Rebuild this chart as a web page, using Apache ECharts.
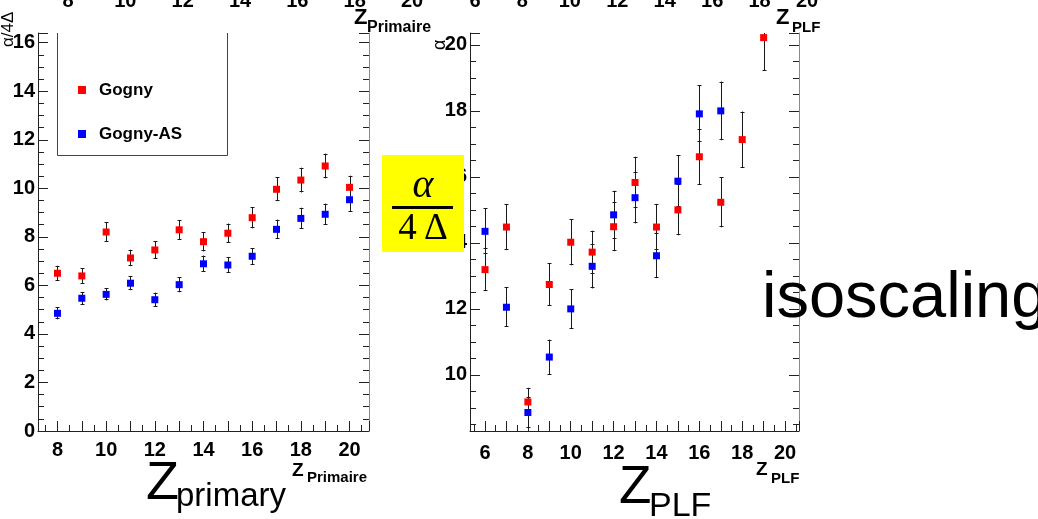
<!DOCTYPE html>
<html>
<head>
<meta charset="utf-8">
<script src="https://cdn.jsdelivr.net/npm/echarts@6/dist/echarts.min.js"></script>
<style>
html,body{margin:0;padding:0;background:#fff;overflow:hidden}
#c{width:1038px;height:519px}
</style>
</head>
<body>
<div id="c"></div>
<script>
// ---------------- data ----------------
const zPrimary = [8, 9, 10, 11, 12, 13, 14, 15, 16, 17, 18, 19, 20];
const gognyPrimary      = [6.50, 6.39, 8.20, 7.13, 7.46, 8.29, 7.80, 8.15, 8.79, 9.96, 10.34, 10.92, 10.04];
const gognyPrimaryErr   = [0.31, 0.32, 0.41, 0.34, 0.37, 0.40, 0.40, 0.40, 0.44, 0.49, 0.51, 0.51, 0.48];
const gognyASPrimary    = [4.85, 5.47, 5.63, 6.09, 5.41, 6.03, 6.89, 6.84, 7.20, 8.31, 8.76, 8.93, 9.53];
const gognyASPrimaryErr = [0.25, 0.26, 0.25, 0.29, 0.29, 0.31, 0.34, 0.33, 0.34, 0.40, 0.44, 0.44, 0.50];

const zPLFGogny   = [6, 7, 8, 9, 10, 11, 12, 13, 14, 15, 16, 17, 18, 19];
const gognyPLF    = [13.19, 14.48, 9.18, 12.74, 14.02, 13.72, 14.49, 15.83, 14.48, 15.00, 16.61, 15.23, 17.13, 20.22];
const gognyPLFErr = [0.65, 0.70, 0.43, 0.64, 0.70, 0.65, 0.74, 0.78, 0.70, 0.77, 0.85, 0.76, 0.85, 1.00];
const zPLFGognyAS   = [6, 7, 8, 9, 10, 11, 12, 13, 14, 15, 16, 17];
const gognyASPLF    = [14.35, 12.05, 8.86, 10.54, 12.00, 13.29, 14.85, 15.37, 13.61, 15.87, 17.91, 18.00];
const gognyASPLFErr = [0.70, 0.60, 0.46, 0.53, 0.60, 0.67, 0.73, 0.78, 0.68, 0.79, 0.86, 0.89];

const seriesNames = ['Gogny', 'Gogny-AS'];
const xTickLabelsPrimary = [8, 10, 12, 14, 16, 18, 20];
const yTickLabelsPrimary = [0, 2, 4, 6, 8, 10, 12, 14, 16];
const xTickLabelsPLF = [6, 8, 10, 12, 14, 16, 18, 20];
const yTickLabelsPLF = [10, 12, 14, 16, 18, 20];
const topTickLabelsLeft = [8, 10, 12, 14, 16, 18, 20];
const topTickLabelsRight = [6, 8, 10, 12, 14, 16, 18, 20];

// ---------------- helpers ----------------
const FONT = '"Liberation Sans", Arial, Helvetica, sans-serif';
const SERIF = '"Liberation Serif", "Times New Roman", serif';
const AX = '#222';
const FR = '#8a8a8a';
const RED = '#ff0000', BLUE = '#0000ff';

function labelFmt(list) {
  return function (v) {
    const r = Math.round(v);
    return (Math.abs(v - r) < 1e-6 && list.indexOf(r) >= 0) ? String(r) : '';
  };
}
function zip3(xs, ys, es) { return xs.map((x, i) => [x, ys[i], es[i]]); }
function zip2(xs, ys) { return xs.map((x, i) => [x, ys[i]]); }

const labelStyle = { color: '#000', fontFamily: FONT, fontWeight: 'bold', fontSize: 20 };

function mainX(grid, min, max, split, labels, margin) {
  return {
    type: 'value', gridIndex: grid, position: 'bottom', min: min, max: max, splitNumber: split,
    axisLine: { show: true, onZero: false, lineStyle: { color: AX, width: 1 } },
    axisTick: { show: true, inside: true, length: 10, lineStyle: { color: AX } },
    axisLabel: Object.assign({ show: true, margin: margin, formatter: labelFmt(labels), hideOverlap: false }, labelStyle),
    splitLine: { show: false }
  };
}
function minorX(grid, min, max, split) {
  return {
    type: 'value', gridIndex: grid, position: 'bottom', min: min, max: max, splitNumber: split,
    axisLine: { show: false, onZero: false },
    axisTick: { show: true, inside: true, length: 6, lineStyle: { color: AX } },
    axisLabel: { show: false }, splitLine: { show: false }
  };
}
function yAx(grid, pos, min, max, opt, tickLen, lineColor, labels) {
  return Object.assign({
    type: 'value', gridIndex: grid, position: pos, min: min, max: max,
    axisLine: { show: lineColor != null, onZero: false, lineStyle: { color: lineColor || AX, width: 1 } },
    axisTick: { show: true, inside: true, length: tickLen, lineStyle: { color: AX } },
    axisLabel: labels ? Object.assign({ show: true, margin: 3, formatter: labelFmt(labels), hideOverlap: false }, labelStyle) : { show: false },
    splitLine: { show: false }
  }, opt);
}
function topLabelsX(grid, min, max, labels) {
  return {
    type: 'value', gridIndex: grid, position: 'bottom', min: min, max: max, interval: 2,
    axisLine: { show: false, onZero: false }, axisTick: { show: false },
    axisLabel: Object.assign({ show: true, margin: 11, formatter: labelFmt(labels), hideOverlap: false }, labelStyle),
    splitLine: { show: false }
  };
}
function hiddenY(grid) {
  return { type: 'value', gridIndex: grid, show: false, min: 0, max: 1 };
}

function errRender(params, api) {
  const x = api.value(0), y = api.value(1), e = api.value(2);
  const p1 = api.coord([x, y + e]);
  const p2 = api.coord([x, y - e]);
  const cs = params.coordSys;
  const top = Math.max(p1[1], cs.y);
  const bot = Math.min(p2[1], cs.y + cs.height);
  const px = Math.round(p1[0]) + 0.5;
  const st = { stroke: '#1a1a1a', lineWidth: 1 };
  const ch = [{ type: 'line', shape: { x1: px, y1: top, x2: px, y2: bot }, style: st }];
  if (p1[1] >= cs.y) {
    const t = Math.round(top) + 0.5;
    ch.push({ type: 'line', shape: { x1: px - 2, y1: t, x2: px + 2, y2: t }, style: st });
  }
  if (p2[1] <= cs.y + cs.height) {
    const b = Math.round(bot) - 0.5;
    ch.push({ type: 'line', shape: { x1: px - 2, y1: b, x2: px + 2, y2: b }, style: st });
  }
  return { type: 'group', children: ch };
}
function errSeries(xi, yi, data) {
  return { type: 'custom', xAxisIndex: xi, yAxisIndex: yi, renderItem: errRender, data: data,
           encode: { x: 0, y: 1 }, z: 2, silent: true };
}
function ptSeries(name, xi, yi, data, color) {
  return { type: 'scatter', name: name, xAxisIndex: xi, yAxisIndex: yi, symbol: 'rect', symbolSize: 7,
           itemStyle: { color: color, opacity: 1 }, data: data, z: 3, silent: true,
           emphasis: { disabled: true } };
}
function txt(text, x, y, font, extra) {
  return Object.assign({ type: 'text', x: x, y: y, z: 100, silent: true,
    style: { text: text, font: font, fill: '#000', align: 'left', verticalAlign: 'middle' } }, extra || {});
}

// ---------------- chart ----------------
const chart = echarts.init(document.getElementById('c'), null, { renderer: 'canvas' });

const option = {
  animation: false,
  backgroundColor: '#fff',
  textStyle: { fontFamily: FONT },
  grid: [
    { left: 38, top: 33, width: 331, height: 398, outerBoundsMode: 'none', containLabel: false },
    { left: 470, top: 33, width: 329, height: 398, outerBoundsMode: 'none', containLabel: false },
    { left: 68, top: -40, width: 344, height: 20, outerBoundsMode: 'none', containLabel: false },
    { left: 475, top: -40, width: 332, height: 20, outerBoundsMode: 'none', containLabel: false }
  ],
  xAxis: [
    mainX(0, 7.2, 20.8, 14, xTickLabelsPrimary, 9),
    minorX(0, 7.2, 20.8, 27),
    mainX(1, 5.3, 20.65, 15, xTickLabelsPLF, 12),
    minorX(1, 5.3, 20.65, 30),
    topLabelsX(2, 8, 20, topTickLabelsLeft),
    topLabelsX(3, 6, 20, topTickLabelsRight)
  ],
  yAxis: [
    yAx(0, 'left', 0, 16.4, { interval: 2 }, 10, AX, yTickLabelsPrimary),
    yAx(0, 'left', 0, 16.4, { interval: 0.5 }, 6, null, null),
    yAx(0, 'right', 0, 16.4, { interval: 2 }, 10, FR, null),
    yAx(0, 'right', 0, 16.4, { interval: 0.5 }, 6, null, null),
    yAx(1, 'left', 8.3, 20.36, { splitNumber: 6 }, 10, AX, yTickLabelsPLF),
    yAx(1, 'left', 8.3, 20.36, { splitNumber: 24 }, 6, null, null),
    yAx(1, 'right', 8.3, 20.36, { splitNumber: 6 }, 10, FR, null),
    yAx(1, 'right', 8.3, 20.36, { splitNumber: 24 }, 6, null, null),
    hiddenY(2),
    hiddenY(3)
  ],
  legend: {
    data: seriesNames, orient: 'vertical', left: 73, top: 75,
    itemWidth: 8, itemHeight: 8, itemGap: 24, icon: 'rect', selectedMode: false,
    textStyle: { fontSize: 17, fontWeight: 'bold', color: '#000', fontFamily: FONT, lineHeight: 20, padding: [0, 0, 0, 8] }
  },
  series: [
    errSeries(0, 0, zip3(zPrimary, gognyPrimary, gognyPrimaryErr)),
    errSeries(0, 0, zip3(zPrimary, gognyASPrimary, gognyASPrimaryErr)),
    ptSeries(seriesNames[0], 0, 0, zip2(zPrimary, gognyPrimary), RED),
    ptSeries(seriesNames[1], 0, 0, zip2(zPrimary, gognyASPrimary), BLUE),
    errSeries(2, 4, zip3(zPLFGogny, gognyPLF, gognyPLFErr)),
    errSeries(2, 4, zip3(zPLFGognyAS, gognyASPLF, gognyASPLFErr)),
    ptSeries(seriesNames[0], 2, 4, zip2(zPLFGogny, gognyPLF), RED),
    ptSeries(seriesNames[1], 2, 4, zip2(zPLFGognyAS, gognyASPLF), BLUE)
  ],
  graphic: [
    // legend frame (top edge hidden)
    { type: 'polyline', z: 50, silent: true,
      shape: { points: [[57.5, 33], [57.5, 155.5], [227.5, 155.5], [227.5, 33]] },
      style: { stroke: '#444', lineWidth: 1, fill: null } },
    // y-axis titles (rotated)
    txt('\u03b1/4\u0394', 8, 47, '17px ' + FONT, { rotation: Math.PI / 2 }),
    txt('\u03b1', 440, 50, '18px ' + FONT, { rotation: Math.PI / 2 }),
    // top-corner axis titles
    txt('Z', 354, 18, 'bold 22px ' + FONT),
    txt('Primaire', 367, 28, 'bold 16px ' + FONT),
    txt('Z', 776, 18, 'bold 22px ' + FONT),
    txt('PLF', 792, 28, 'bold 15px ' + FONT),
    // bottom small axis titles
    txt('Z', 292, 471, 'bold 19px ' + FONT),
    txt('Primaire', 307, 478, 'bold 15px ' + FONT),
    txt('Z', 756, 470, 'bold 19px ' + FONT),
    txt('PLF', 771, 479, 'bold 15px ' + FONT),
    // big labels
    txt('Z', 146, 484, '54px ' + FONT),
    txt('primary', 176, 496.5, '33px ' + FONT),
    txt('Z', 619, 488, '53px ' + FONT),
    txt('PLF', 649, 506.5, '34px ' + FONT),
    // yellow formula box
    { type: 'rect', z: 100, silent: true, shape: { x: 382, y: 155, width: 82, height: 97 }, style: { fill: '#ffff00' } },
    txt('\u03b1', 423, 186, 'italic 40px ' + SERIF, { z: 101, style: { text: '\u03b1', font: 'italic 40px ' + SERIF, fill: '#000', align: 'center', verticalAlign: 'middle' } }),
    { type: 'line', z: 101, silent: true, shape: { x1: 392, y1: 207.5, x2: 453, y2: 207.5 }, style: { stroke: '#000', lineWidth: 3 } },
    txt('4\u2009\u0394', 423, 229, '37px ' + SERIF, { z: 101, style: { text: '4\u2009\u0394', font: '37px ' + SERIF, fill: '#000', align: 'center', verticalAlign: 'middle' } }),
    // big word
    txt('isoscaling', 762, 299, '65px ' + FONT, { z: 101 })
  ]
};
chart.setOption(option);
</script>
</body>
</html>
